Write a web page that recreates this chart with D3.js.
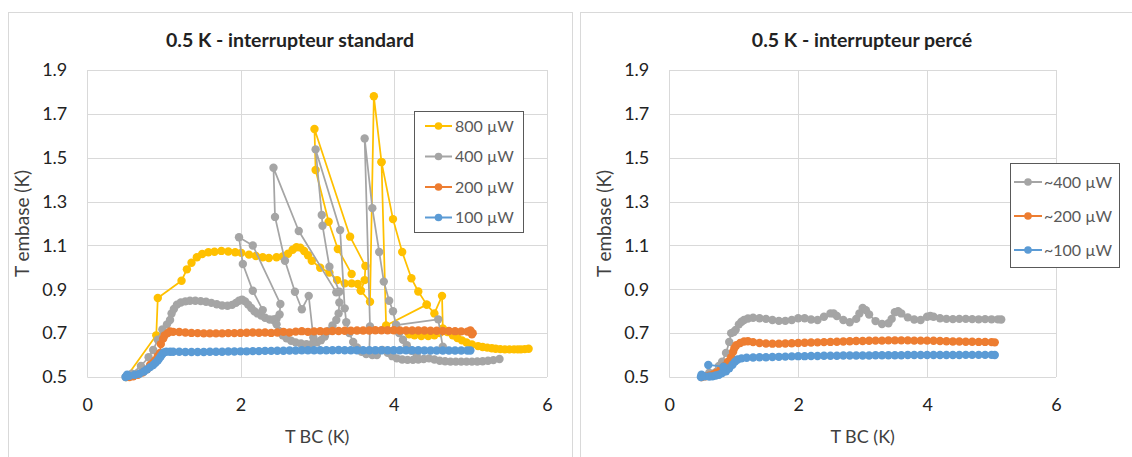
<!DOCTYPE html>
<html><head><meta charset="utf-8">
<script src="https://cdn.jsdelivr.net/npm/d3@7"></script>
<style>
html,body{margin:0;padding:0;background:#fff;}
svg{display:block;font-family:Lato,"Open Sans",sans-serif;}
</style></head>
<body>
<svg id="chart" width="1132" height="457"></svg>
<script>
// ---------- DATA ----------
const xTicks = [0, 2, 4, 6];
const yTicks = [0.5, 0.7, 0.9, 1.1, 1.3, 1.5, 1.7, 1.9];
const titleL = "0.5 K - interrupteur standard";
const titleR = "0.5 K - interrupteur percé";
const xTitle = "T BC (K)";
const yTitle = "T embase (K)";
const legendL = ["800 µW", "400 µW", "200 µW", "100 µW"];
const legendR = ["~400 µW", "~200 µW", "~100 µW"];

// left panel (null = break in the drawn line)
const s800L = [
 [0.51,0.50],[0.90,0.69],[0.92,0.86],[1.23,0.939],[1.30,0.991],[1.36,1.021],[1.43,1.046],[1.50,1.061],[1.58,1.069],[1.66,1.071],[1.75,1.075],[1.84,1.072],[1.93,1.069],[2.01,1.066],[2.11,1.058],[2.20,1.052],[2.29,1.046],[2.37,1.043],[2.47,1.046],[2.55,1.05],[2.62,1.062],[2.68,1.08],[2.73,1.092],[2.78,1.09],[2.83,1.075],[2.88,1.055],[2.93,1.03],[3.04,0.998],[3.16,0.976],[3.26,0.942],[3.36,0.927],[3.45,0.927],[3.53,0.924],[3.57,0.894],[3.69,0.843],[3.74,1.78],[3.84,1.48],[3.99,1.22],[4.11,1.07],[4.23,0.95],[4.32,0.89],[4.43,0.83],[4.53,0.79],[4.63,0.87],[4.64,0.72],[4.70,0.705],[4.77,0.69],[4.83,0.678],[4.89,0.667],[4.95,0.657],[5.02,0.648],[5.10,0.641],[5.16,0.637],[5.22,0.634],[5.28,0.631],[5.33,0.629],[5.39,0.627],[5.45,0.626],[5.51,0.626],[5.57,0.626],[5.62,0.626],[5.66,0.626],[5.71,0.627],[5.76,0.629],
 null,
 [3.84,1.48],[3.90,0.735],[4.43,0.83],
 null,
 [3.45,0.97],[3.27,1.084],[3.15,1.208],[2.98,1.444],[2.965,1.631],[3.43,1.14],[3.63,1.006],[3.62,0.942],[3.57,0.894],
 null,
 [4.20,0.695],[4.27,0.69],[4.36,0.687],[4.45,0.687],[4.53,0.69],[4.60,0.70],[4.64,0.72]
];
const s400L = [
 [0.50,0.50],[0.58,0.515],[0.70,0.55],[0.80,0.59],[0.86,0.623],[0.92,0.67],[0.98,0.717],[1.04,0.74],[1.08,0.76],[1.10,0.79],[1.13,0.81],[1.17,0.83],[1.22,0.84],[1.28,0.845],[1.34,0.848],[1.41,0.848],[1.48,0.846],[1.55,0.843],[1.62,0.838],[1.69,0.832],[1.76,0.826],[1.83,0.825],[1.89,0.829],[1.94,0.838],[1.98,0.848],[2.02,0.853],[2.06,0.845],[2.10,0.83],[2.14,0.815],[2.18,0.80],[2.22,0.79],[2.27,0.78],[2.32,0.77],[2.38,0.762],[2.43,0.760],[2.47,0.766],[2.51,0.785],[2.52,0.833],[2.16,1.10],[1.98,1.137],[2.03,1.015],[2.16,0.893],[2.29,0.805],
 null,
 [2.43,0.762],[2.47,0.74],[2.50,0.71],[2.55,0.69],[2.60,0.677],[2.66,0.665],[2.72,0.658],[2.79,0.653],[2.86,0.650],[2.93,0.651],[3.00,0.658],[3.05,0.668],[3.10,0.685],[3.15,0.71],[3.20,0.735],[3.25,0.76],[3.28,0.79],[3.29,0.84],[3.29,0.889],[3.16,1.003],[3.07,1.19],[3.06,1.239],[2.98,1.538],[3.30,1.17],[3.36,0.813],[3.38,0.75],[3.42,0.70],[3.47,0.66],[3.52,0.635],[3.58,0.615],[3.64,0.605],[3.68,0.61],[3.69,0.73],[3.62,1.588],[3.72,1.27],[3.81,1.07],[3.87,0.935],[3.94,0.848],[3.99,0.80],[4.03,0.737],[4.58,0.763],[4.64,0.638],
 null,
 [4.03,0.737],[4.07,0.70],[4.12,0.67],[4.17,0.645],[4.23,0.62],[4.30,0.60],
 null,
 [3.72,0.60],[3.78,0.60],[3.85,0.623],[3.92,0.61],[3.98,0.595],[4.04,0.585],[4.11,0.58],[4.18,0.578],[4.25,0.578],[4.32,0.58],[4.39,0.582],[4.46,0.585],[4.53,0.58],[4.60,0.574],[4.67,0.572],[4.74,0.57],[4.81,0.57],[4.88,0.57],[4.95,0.57],[5.02,0.57],[5.09,0.571],[5.16,0.572],[5.23,0.574],[5.30,0.577],[5.38,0.582],
 null,
 [2.95,0.68],[2.89,0.87],[2.80,0.809],[2.71,0.889],[2.58,1.03],[2.45,1.23],[2.43,1.454],[2.76,1.166],[3.25,0.886]
];
const s200L = [
 [0.55,0.50],[0.60,0.503],[0.66,0.51],[0.72,0.52],[0.78,0.535],[0.82,0.555],[0.86,0.565],[0.89,0.577],[0.92,0.595],[0.95,0.61],[0.96,0.65],[0.99,0.675],[1.01,0.69],[1.05,0.70],[1.08,0.708],[1.12,0.706],[1.20,0.705],[1.28,0.703],[1.36,0.701],[1.44,0.700],[1.52,0.699],[1.60,0.699],[1.68,0.699],[1.76,0.699],[1.84,0.700],[1.92,0.700],[2.00,0.701],[2.08,0.702],[2.16,0.703],[2.24,0.702],[2.32,0.703],[2.40,0.701],[2.48,0.703],[2.56,0.706],[2.64,0.703],[2.72,0.707],[2.80,0.709],[2.88,0.706],[2.96,0.708],[3.04,0.709],[3.12,0.708],[3.20,0.710],[3.28,0.710],[3.36,0.711],[3.44,0.711],[3.52,0.712],[3.60,0.712],[3.68,0.712],[3.76,0.713],[3.84,0.713],[3.92,0.713],[4.00,0.713],[4.08,0.712],[4.16,0.712],[4.24,0.712],[4.32,0.712],[4.40,0.712],[4.48,0.711],[4.56,0.711],[4.64,0.710],[4.72,0.710],[4.80,0.709],[4.88,0.708],[4.96,0.707],[5.00,0.712],[5.03,0.700],[5.02,0.695]
];
const s100L = [
 [0.50,0.50],[0.52,0.51],[0.55,0.505],[0.62,0.51],[0.68,0.515],[0.74,0.525],[0.78,0.535],[0.82,0.545],[0.86,0.555],[0.89,0.565],[0.92,0.575],[0.94,0.585],[0.96,0.595],[0.98,0.605],[1.00,0.612],[1.03,0.615],[1.08,0.615],[1.12,0.615],[1.20,0.615],[1.28,0.614],[1.36,0.614],[1.44,0.614],[1.52,0.614],[1.60,0.615],[1.68,0.615],[1.76,0.615],[1.84,0.616],[1.92,0.616],[2.00,0.617],[2.08,0.617],[2.16,0.618],[2.24,0.618],[2.32,0.619],[2.40,0.619],[2.48,0.620],[2.56,0.620],[2.64,0.621],[2.72,0.621],[2.80,0.622],[2.88,0.622],[2.96,0.622],[3.04,0.622],[3.12,0.622],[3.20,0.622],[3.28,0.623],[3.36,0.622],[3.44,0.622],[3.52,0.622],[3.60,0.622],[3.68,0.622],[3.76,0.622],[3.84,0.622],[3.92,0.622],[4.00,0.622],[4.08,0.622],[4.16,0.622],[4.24,0.622],[4.32,0.622],[4.40,0.621],[4.48,0.621],[4.56,0.621],[4.64,0.621],[4.72,0.621],[4.80,0.621],[4.88,0.621],[4.96,0.621],[5.00,0.621]
];

// right panel
const s400R = [
 [0.50,0.50],[0.62,0.52],[0.77,0.55],[0.82,0.57],[0.88,0.61],[0.93,0.66],[0.96,0.70],[1.00,0.705],[1.03,0.715],[1.08,0.74],[1.12,0.752],[1.16,0.76],[1.22,0.767],[1.30,0.77],[1.40,0.768],[1.50,0.765],[1.60,0.76],[1.70,0.756],[1.80,0.756],[1.90,0.76],[2.00,0.768],[2.10,0.768],[2.20,0.762],[2.30,0.76],[2.40,0.775],[2.50,0.79],[2.55,0.79],[2.60,0.778],[2.70,0.76],[2.80,0.75],[2.90,0.765],[2.95,0.79],[3.00,0.815],[3.05,0.805],[3.10,0.785],[3.20,0.755],[3.30,0.742],[3.40,0.745],[3.45,0.765],[3.50,0.795],[3.55,0.80],[3.60,0.79],[3.70,0.772],[3.80,0.762],[3.90,0.76],[4.00,0.775],[4.05,0.778],[4.10,0.775],[4.20,0.768],[4.30,0.765],[4.40,0.764],[4.50,0.765],[4.60,0.765],[4.70,0.764],[4.80,0.763],[4.90,0.764],[5.00,0.763],[5.10,0.763],[5.15,0.762]
];
const s200R = [
 [0.50,0.50],[0.56,0.503],[0.62,0.506],[0.68,0.512],[0.73,0.52],[0.80,0.535],[0.86,0.55],[0.91,0.57],[0.96,0.59],[0.99,0.615],[1.01,0.632],[1.04,0.645],[1.10,0.655],[1.16,0.662],[1.22,0.663],[1.30,0.659],[1.40,0.655],[1.50,0.653],[1.60,0.652],[1.70,0.652],[1.80,0.653],[1.90,0.654],[2.00,0.655],[2.10,0.656],[2.20,0.657],[2.30,0.658],[2.40,0.659],[2.50,0.66],[2.60,0.661],[2.70,0.662],[2.80,0.663],[2.90,0.664],[3.00,0.664],[3.10,0.665],[3.20,0.666],[3.30,0.666],[3.40,0.667],[3.50,0.667],[3.60,0.667],[3.70,0.667],[3.80,0.666],[3.90,0.666],[4.00,0.666],[4.10,0.665],[4.20,0.664],[4.30,0.663],[4.40,0.662],[4.50,0.662],[4.60,0.661],[4.70,0.661],[4.80,0.660],[4.90,0.660],[5.00,0.659],[5.05,0.658]
];
const s100R = [
 [0.49,0.50],[0.50,0.51],[0.55,0.503],[0.62,0.502],[0.67,0.503],[0.72,0.507],[0.77,0.51],[0.82,0.518],[0.88,0.526],[0.93,0.54],[0.98,0.556],[1.02,0.57],[1.06,0.58],[1.12,0.585],[1.20,0.588],[1.30,0.589],[1.40,0.59],[1.50,0.59],[1.60,0.591],[1.70,0.592],[1.80,0.593],[1.90,0.594],[2.00,0.595],[2.10,0.595],[2.20,0.596],[2.30,0.596],[2.40,0.597],[2.50,0.597],[2.60,0.597],[2.70,0.598],[2.80,0.598],[2.90,0.598],[3.00,0.598],[3.10,0.598],[3.20,0.599],[3.30,0.599],[3.40,0.599],[3.50,0.599],[3.60,0.599],[3.70,0.600],[3.80,0.600],[3.90,0.600],[4.00,0.600],[4.10,0.600],[4.20,0.600],[4.30,0.600],[4.40,0.600],[4.50,0.600],[4.60,0.601],[4.70,0.601],[4.80,0.601],[4.90,0.601],[5.00,0.601],[5.05,0.600],
 null,
 [0.605,0.555],[0.84,0.547]
];

const colors = {c800:"#FFC000", c400:"#A5A5A5", c200:"#ED7D31", c100:"#5B9BD5"};

// ---------- DRAW ----------
const svg = d3.select("#chart");
const gridColor = "#d9d9d9";
const textColor = "#404040";
const R = 4.2;

function panel(opt){
  const g = svg.append("g");
  g.append("rect").attr("x", opt.box[0]+0.5).attr("y", 12.5)
    .attr("width", opt.box[1]-opt.box[0]).attr("height", 470)
    .attr("fill","#fff").attr("stroke","#d9d9d9").attr("stroke-width",1);
  const x = d3.scaleLinear().domain([0,6]).range(opt.xr);
  const y = d3.scaleLinear().domain([0.5,1.9]).range([377,70]);
  g.append("g").selectAll("line").data(yTicks).join("line")
    .attr("x1", x(0)).attr("x2", x(6))
    .attr("y1", d=>Math.round(y(d))+0.5).attr("y2", d=>Math.round(y(d))+0.5)
    .attr("stroke", gridColor).attr("stroke-width",1);
  g.append("g").selectAll("line").data(xTicks).join("line")
    .attr("y1", y(0.5)).attr("y2", y(1.9))
    .attr("x1", d=>Math.round(x(d))+0.5).attr("x2", d=>Math.round(x(d))+0.5)
    .attr("stroke", gridColor).attr("stroke-width",1);
  const ya = g.append("g").attr("transform",`translate(${x(0)},0)`)
    .call(d3.axisLeft(y).tickValues(yTicks).tickFormat(d3.format(".1f")).tickSize(0).tickPadding(20));
  const xa = g.append("g").attr("transform",`translate(0,${y(0.5)})`)
    .call(d3.axisBottom(x).tickValues(xTicks).tickFormat(d3.format("d")).tickSize(0).tickPadding(21));
  [ya,xa].forEach(a=>{
    a.select(".domain").remove();
    a.selectAll("text").attr("font-size","18px").attr("fill","#222").attr("font-family","Lato, sans-serif");
  });
  g.append("text").attr("x", opt.titleX).attr("y", 47).attr("text-anchor","middle")
    .attr("font-size","19.5px").attr("font-weight","bold").attr("fill","#222").text(opt.title);
  g.append("text").attr("x", (x(0)+x(6))/2).attr("y", 443).attr("text-anchor","middle")
    .attr("font-size","18px").attr("fill",textColor).text(xTitle);
  g.append("text").attr("transform",`translate(${opt.yTitleX},${(y(0.5)+y(1.9))/2}) rotate(-90)`)
    .attr("text-anchor","middle").attr("font-size","19px").attr("fill",textColor).text(yTitle);
  const line = d3.line().defined(d=>d!==null).x(d=>x(d[0])).y(d=>y(d[1]));
  opt.series.forEach(s=>{
    const sg = g.append("g");
    sg.append("path").datum(s.data).attr("d", line).attr("fill","none")
      .attr("stroke", s.color).attr("stroke-width",1.75).attr("stroke-linejoin","round");
    sg.selectAll("circle").data(s.data.filter(d=>d!==null)).join("circle")
      .attr("cx", d=>x(d[0])).attr("cy", d=>y(d[1])).attr("r",R).attr("fill", s.color);
  });
  const L = opt.legend;
  const lg = g.append("g");
  lg.append("rect").attr("x",L.x+0.5).attr("y",L.y+0.5).attr("width",L.w).attr("height",L.h)
    .attr("fill","#fff").attr("stroke","#595959").attr("stroke-width",1);
  L.items.forEach((it,i)=>{
    const cy = L.y0 + i*L.dy;
    lg.append("line").attr("x1",L.x+L.lx0).attr("x2",L.x+L.lx1).attr("y1",cy).attr("y2",cy)
      .attr("stroke",it.color).attr("stroke-width",2);
    lg.append("circle").attr("cx",L.x+(L.lx0+L.lx1)/2).attr("cy",cy).attr("r",3.8).attr("fill",it.color);
    lg.append("text").attr("x",L.x+L.tx).attr("y",cy).attr("dy","0.35em")
      .attr("font-size","16px").attr("fill","#595959").text(it.label);
  });
}

panel({
  box:[8,572], xr:[87.3,547], titleX:290, title:titleL, yTitleX:29,
  series:[
    {data:s800L,color:colors.c800},{data:s400L,color:colors.c400},
    {data:s200L,color:colors.c200},{data:s100L,color:colors.c100}],
  legend:{x:414,y:111,w:109,h:121,y0:126,dy:30.5,lx0:11,lx1:38,tx:41,
    items:[{label:legendL[0],color:colors.c800},{label:legendL[1],color:colors.c400},
           {label:legendL[2],color:colors.c200},{label:legendL[3],color:colors.c100}]}
});
panel({
  box:[580,1150], xr:[669.3,1056], titleX:862, title:titleR, yTitleX:611,
  series:[
    {data:s400R,color:colors.c400},{data:s200R,color:colors.c200},{data:s100R,color:colors.c100}],
  legend:{x:1010,y:163,w:109,h:104,y0:182,dy:34,lx0:4,lx1:32,tx:34,
    items:[{label:legendR[0],color:colors.c400},{label:legendR[1],color:colors.c200},
           {label:legendR[2],color:colors.c100}]}
});
</script>
</body></html>
